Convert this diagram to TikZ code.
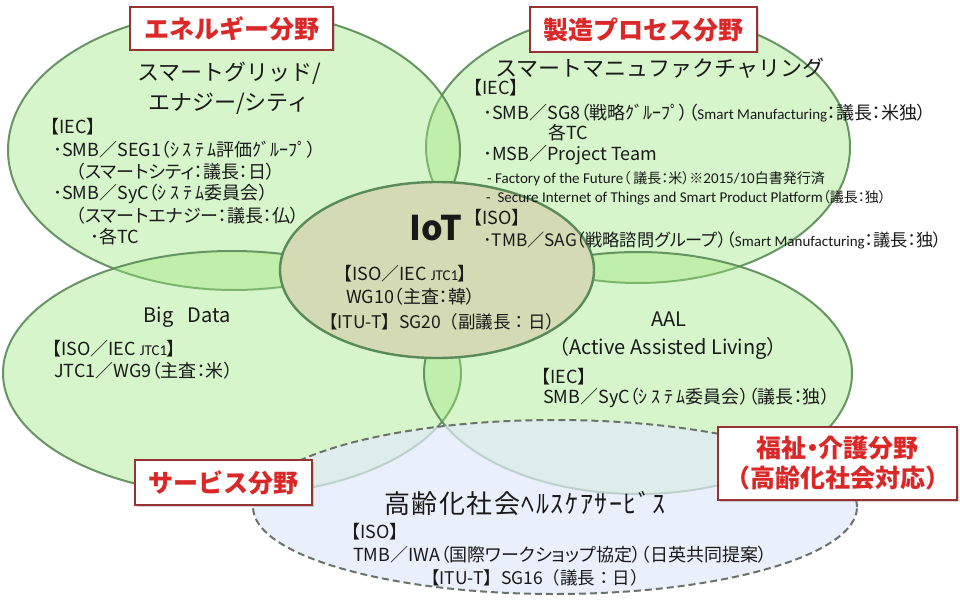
\documentclass[tikz,border=0pt]{standalone}
\usepackage{fontspec}
\setmainfont{Noto Sans CJK JP}
\newfontfamily\hon{Noto Sans CJK JP}[RawFeature=+palt]
\newfontfamily\cali{Carlito}
\usepackage{tikz}
\usetikzlibrary{shapes.geometric,shadows,positioning}
\definecolor{midori}{RGB}{155,232,125}
\definecolor{midorisen}{RGB}{90,138,88}
\definecolor{iotiro}{RGB}{212,218,180}
\definecolor{aoiro}{RGB}{226,234,250}
\definecolor{hasen}{RGB}{105,115,105}
\definecolor{aka}{RGB}{218,40,40}
\definecolor{akasen}{RGB}{150,50,50}
\definecolor{sumi}{RGB}{25,25,25}
\tikzset{
  ryoiki/.style={ellipse,fill=midori,fill opacity=0.4,draw=midorisen,draw opacity=0.9,line width=2pt,inner sep=0pt},
  iotwaku/.style={ellipse,fill=iotiro,draw=midorisen,line width=2.4pt,inner sep=0pt},
  koureiwaku/.style={ellipse,fill=aoiro,fill opacity=0.7,draw=hasen,line width=2pt,dash pattern=on 7pt off 4pt,inner sep=0pt},
  bunya/.style={rectangle,draw=akasen,line width=2pt,fill=white,text=aka,align=center,inner sep=0pt,
    font=\fontsize{25}{30}\selectfont\bfseries,drop shadow={opacity=0.35,shadow xshift=1.5pt,shadow yshift=-1.5pt}},
  midashi/.style={text=sumi,font=\fontsize{22}{27}\selectfont,inner sep=0pt},
  eigo/.style={text=sumi,font=\fontsize{20}{24}\selectfont,inner sep=0pt},
  txt/.style={anchor=west,text=sumi,font=\hon\fontsize{18}{21}\selectfont,inner sep=0pt},
  itu/.style={txt,font=\fontsize{17.5}{21}\selectfont},
  komoji/.style={txt,font=\cali\fontsize{15}{18}\selectfont}
}
\newcommand{\komo}[1]{{\cali\fontsize{15}{18}\selectfont #1}}
\newcommand{\jp}[1]{{\hon\fontsize{14}{17}\selectfont #1}}
\newcommand{\han}[1]{{\addfontfeatures{LetterSpace=20}#1}}

\begin{document}
\begin{tikzpicture}[x=1pt,y=-1pt]
\fill[white] (0,0) rectangle (960,602);
\useasboundingbox (0,0) rectangle (960,602);
% ryoiki
\node[ryoiki,minimum width=424pt,minimum height=272pt] (seizo) at (638,147) {};
\node[ryoiki,minimum width=452pt,minimum height=280pt] (energy) at (234,150) {};
\node[ryoiki,minimum width=458pt,minimum height=244pt] (bigdata) at (232,373) {};
\node[ryoiki,minimum width=428pt,minimum height=242pt] (aal) at (638,373) {};
\node[koureiwaku,minimum width=604pt,minimum height=174pt] (kourei) at (555,507) {};
\node[iotwaku,minimum width=314pt,minimum height=176pt] (iot) at (437,270) {};

% energy
\node[midashi] (eTitle1) at (229,73) {スマートグリッド/};
\node[midashi] (eTitle2) at (229,104) {エナジー/シティ};
\node[txt] (eIec) at (50,127) {【IEC】};
\node[txt] (eSeg) at (53,150) {･SMB／SEG1（\han{ｼｽﾃﾑ}評価ｸﾞﾙｰﾌﾟ）};
\node[txt] (eCity) at (76,172) {（スマートシティ：議長：日）};
\node[txt] (eSyc) at (53,194) {･SMB／SyC（\han{ｼｽﾃﾑ}委員会）};
\node[txt] (eEne) at (76,216) {（スマートエナジー：議長：仏）};
\node[txt] (eTc) at (90,237) {･各TC};

% seizo
\node[midashi] (mTitle) at (660,68) {スマートマニュファクチャリング};
\node[txt] (mIec) at (473,88) {【IEC】};
\node[txt] (mSg8) at (483,113) {･SMB／SG8（戦略ｸﾞﾙｰﾌﾟ）（\komo{Smart Manufacturing}：議長：米独）};
\node[txt] (mTc) at (548,133) {各TC};
\node[txt] (mMsb) at (483,155) {･MSB／Project Team};
\node[komoji] (mFof) at (487,179) {- Factory of the Future\jp{（ 議長：米）※}2015/10\jp{白書発行済}};
\node[komoji] (mSec) at (486,198) {-\ \ Secure Internet of Things and Smart Product Platform\jp{（議長：独）}};
\node[txt] (mIso) at (473,218) {【ISO】};
\node[txt,font=\hon\fontsize{17.2}{21}\selectfont] (mSag) at (483,240) {･TMB／SAG（戦略諮問グループ）（\komo{Smart Manufacturing}：議長：独）};

% iot
\node[text=sumi,font=\fontsize{34}{40}\selectfont\bfseries,inner sep=0pt] (iTitle) at (436,228) {IoT};
\node[txt] (iJtc) at (343,274) {【ISO／IEC \komo{JTC1}】};
\node[txt] (iWg) at (346,297) {WG10（主査：韓）};
\node[itu] (iItu) at (320,322) {【ITU-T】SG20（副議長：日）};

% big data
\node[eigo] (bTitle) at (187,317) {Big\hspace{0.7em}Data};
\node[txt] (bJtc) at (52,349) {【ISO／IEC \komo{JTC1}】};
\node[txt] (bWg) at (54,371) {JTC1／WG9（主査：米）};

% aal
\node[eigo] (aTitle) at (669,319) {AAL};
\node[eigo] (aSub) at (668,348) {（Active Assisted Living）};
\node[txt] (aIec) at (541,377) {【IEC】};
\node[txt] (aSyc) at (543,398) {SMB／SyC（\han{ｼｽﾃﾑ}委員会）（議長：独）};

% kourei
\node[midashi,font=\fontsize{26}{30}\selectfont\addfontfeatures{LetterSpace=6}] (kTitle) at (525,503) {高齢化社会ﾍﾙｽｹｱｻｰﾋﾞｽ};
\node[txt] (kIso) at (351,532) {【ISO】};
\node[txt] (kIwa) at (353,555) {TMB／IWA（国際ワークショップ協定）（日英共同提案）};
\node[itu] (kItu) at (422,578) {【ITU-T】SG16（議長：日）};

% bunya
\node[bunya,minimum width=203pt,minimum height=43pt] (lEnergy) at (231.5,28.5) {エネルギー分野};
\node[bunya,minimum width=227pt,minimum height=45pt] (lSeizo) at (643.5,29.5) {製造プロセス分野};
\node[bunya,minimum width=177pt,minimum height=45pt] (lService) at (223.5,482.5) {サービス分野};
\node[bunya,minimum width=239pt,minimum height=73pt] (lFukushi) at (837.5,463.5) {福祉{\hon ・}介護分野\\（高齢化社会対応）};
\end{tikzpicture}
\end{document}
